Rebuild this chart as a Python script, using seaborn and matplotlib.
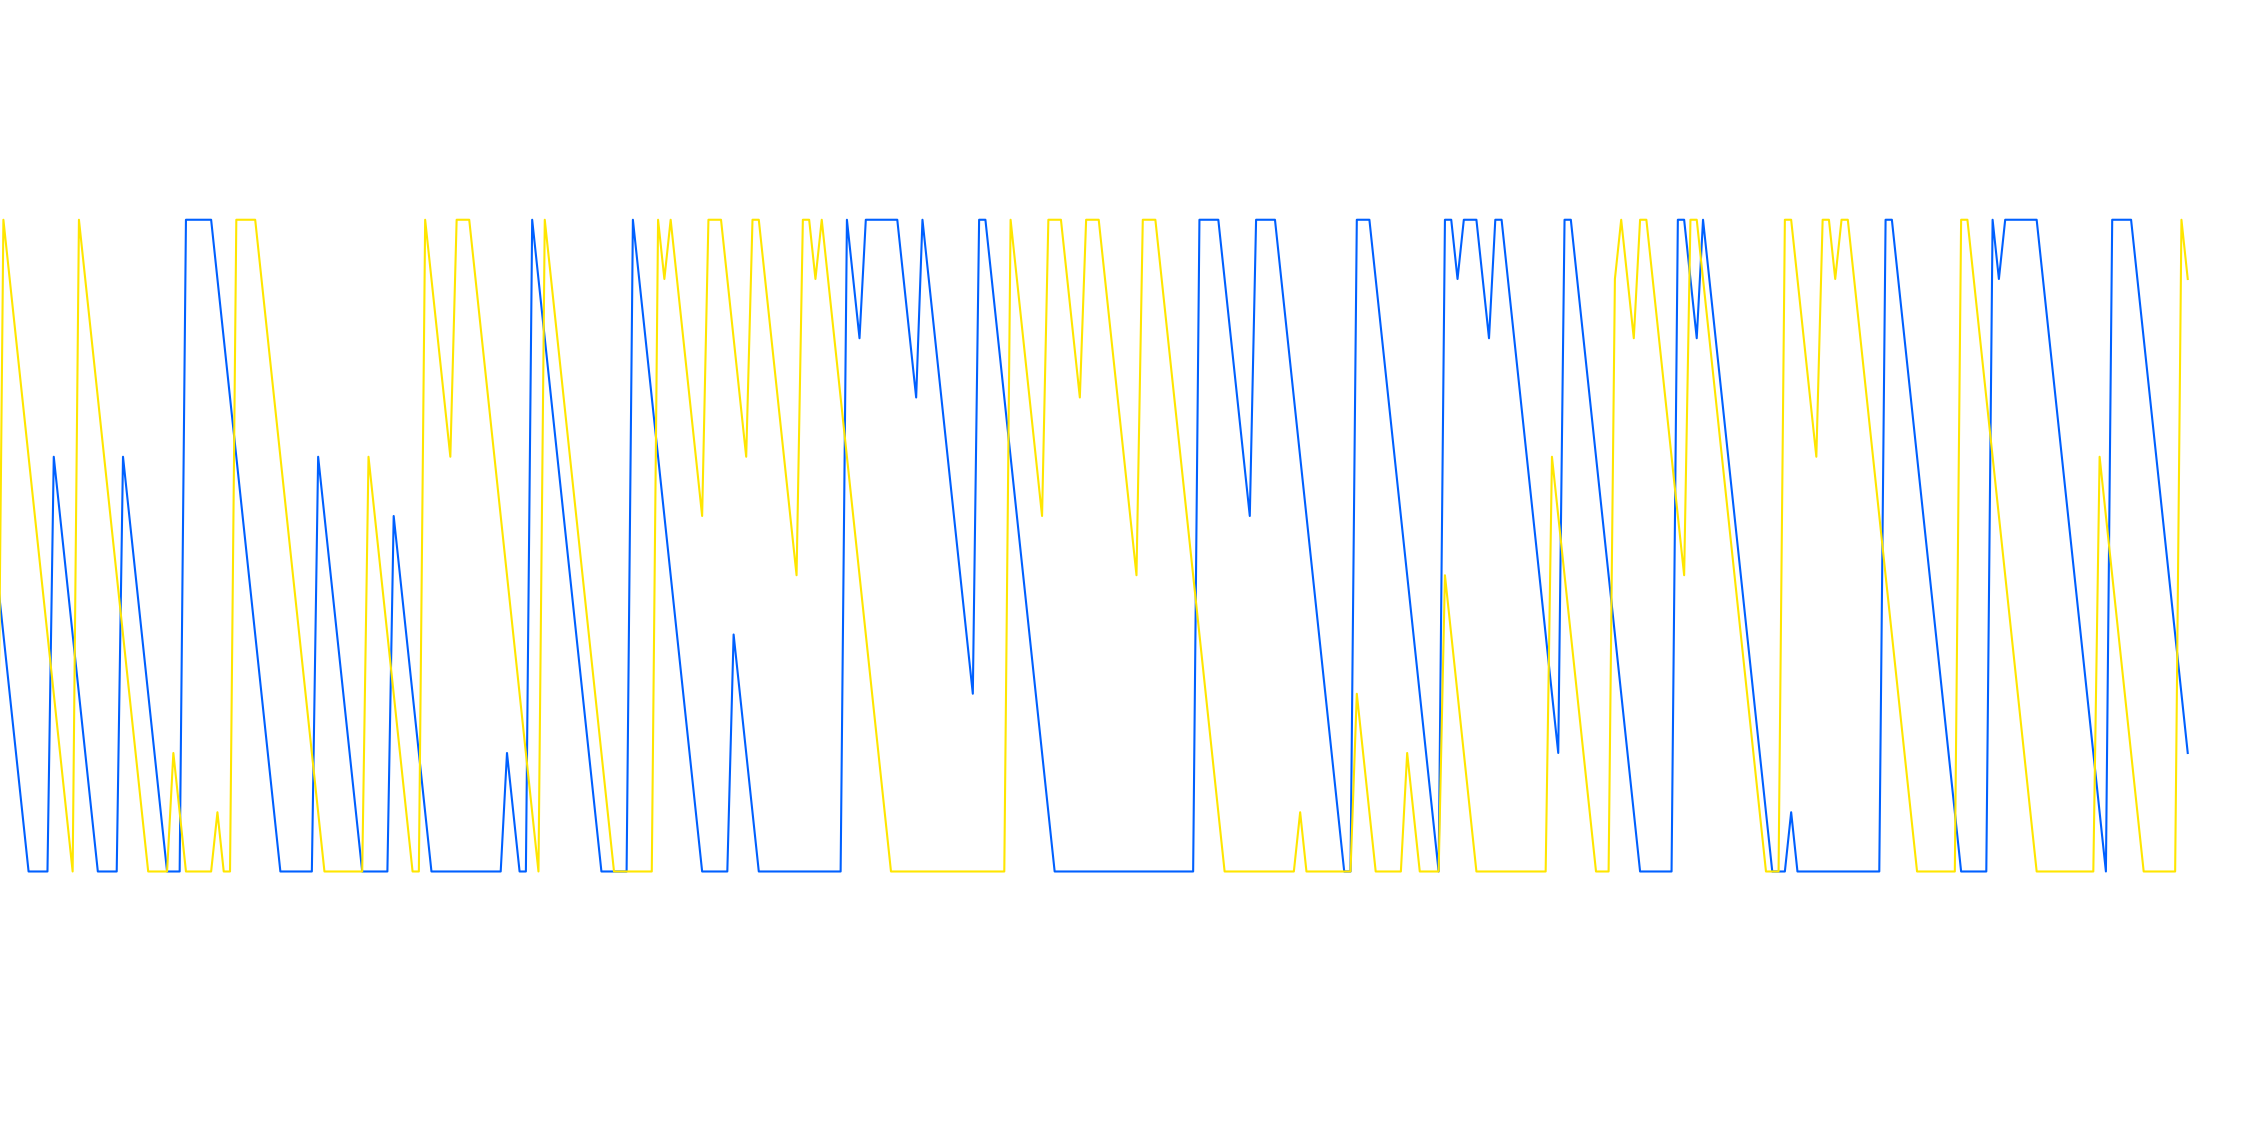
import matplotlib
matplotlib.use("Agg")
import matplotlib.pyplot as plt
import pandas as pd
import seaborn as sns

# step values, index -1 .. 347 (first point sits just off the left edge)
blue_vals = [
    5,
    4, 3, 2, 1, 0, 0, 0, 0, 7, 6, 5, 4, 3, 2, 1, 0, 0, 0, 0,
    7, 6, 5, 4, 3, 2, 1, 0, 0, 0, 11, 11, 11, 11, 11,
    10, 9, 8, 7, 6, 5, 4, 3, 2, 1, 0, 0, 0, 0, 0, 0,
    7, 6, 5, 4, 3, 2, 1, 0, 0, 0, 0, 0,
    6, 5, 4, 3, 2, 1, 0, 0, 0, 0, 0, 0, 0, 0, 0, 0, 0, 0,
    2, 1, 0, 0,
    11, 10, 9, 8, 7, 6, 5, 4, 3, 2, 1, 0, 0, 0, 0, 0,
    11, 10, 9, 8, 7, 6, 5, 4, 3, 2, 1, 0, 0, 0, 0, 0,
    4, 3, 2, 1, 0, 0, 0, 0, 0, 0, 0, 0, 0, 0, 0, 0, 0, 0,
    11, 10, 9, 11, 11, 11, 11, 11, 11, 10, 9, 8,
    11, 10, 9, 8, 7, 6, 5, 4, 3, 11, 11,
    10, 9, 8, 7, 6, 5, 4, 3, 2, 1,
    0, 0, 0, 0, 0, 0, 0, 0, 0, 0, 0, 0, 0, 0, 0, 0, 0, 0, 0, 0, 0, 0, 0,
    11, 11, 11, 11, 10, 9, 8, 7, 6, 11, 11, 11, 11,
    10, 9, 8, 7, 6, 5, 4, 3, 2, 1, 0, 0,
    11, 11, 11, 10, 9, 8, 7, 6, 5, 4, 3, 2, 1, 0,
    11, 11, 10, 11, 11, 11, 10, 9, 11, 11,
    10, 9, 8, 7, 6, 5, 4, 3, 2, 11, 11,
    10, 9, 8, 7, 6, 5, 4, 3, 2, 1, 0, 0, 0, 0, 0, 0,
    11, 11, 10, 9, 11, 10, 9, 8, 7, 6, 5, 4, 3, 2, 1,
    0, 0, 0, 1, 0, 0, 0, 0, 0, 0, 0, 0, 0, 0, 0, 0, 0, 0,
    11, 11, 10, 9, 8, 7, 6, 5, 4, 3, 2, 1, 0, 0, 0, 0, 0,
    11, 10, 11, 11, 11, 11, 11, 11,
    10, 9, 8, 7, 6, 5, 4, 3, 2, 1, 0,
    11, 11, 11, 11, 10, 9, 8, 7, 6, 5, 4, 3, 2,
]
yellow_vals = [
    0,
    11, 10, 9, 8, 7, 6, 5, 4, 3, 2, 1, 0,
    11, 10, 9, 8, 7, 6, 5, 4, 3, 2, 1, 0, 0, 0, 0,
    2, 1, 0, 0, 0, 0, 0, 1, 0, 0,
    11, 11, 11, 11, 10, 9, 8, 7, 6, 5, 4, 3, 2, 1,
    0, 0, 0, 0, 0, 0, 0, 7, 6, 5, 4, 3, 2, 1, 0, 0,
    11, 10, 9, 8, 7, 11, 11, 11, 10, 9, 8, 7, 6, 5, 4, 3, 2, 1, 0,
    11, 10, 9, 8, 7, 6, 5, 4, 3, 2, 1, 0, 0, 0, 0, 0, 0, 0,
    11, 10, 11, 10, 9, 8, 7, 6, 11, 11, 11, 10, 9, 8, 7,
    11, 11, 10, 9, 8, 7, 6, 5, 11, 11, 10,
    11, 10, 9, 8, 7, 6, 5, 4, 3, 2, 1,
    0, 0, 0, 0, 0, 0, 0, 0, 0, 0, 0, 0, 0, 0, 0, 0, 0, 0, 0,
    11, 10, 9, 8, 7, 6, 11, 11, 11, 10, 9, 8, 11, 11, 11,
    10, 9, 8, 7, 6, 5, 11, 11, 11, 10, 9, 8, 7, 6, 5, 4, 3, 2, 1,
    0, 0, 0, 0, 0, 0, 0, 0, 0, 0, 0, 0, 1, 0, 0, 0, 0, 0, 0, 0, 0,
    3, 2, 1, 0, 0, 0, 0, 0, 2, 1, 0, 0, 0, 0,
    5, 4, 3, 2, 1, 0, 0, 0, 0, 0, 0, 0, 0, 0, 0, 0, 0,
    7, 6, 5, 4, 3, 2, 1, 0, 0, 0,
    10, 11, 10, 9, 11, 11, 10, 9, 8, 7, 6, 5, 11, 11,
    10, 9, 8, 7, 6, 5, 4, 3, 2, 1, 0, 0, 0,
    11, 11, 10, 9, 8, 7, 11, 11, 10, 11, 11,
    10, 9, 8, 7, 6, 5, 4, 3, 2, 1, 0, 0, 0, 0, 0, 0, 0,
    11, 11, 10, 9, 8, 7, 6, 5, 4, 3, 2, 1,
    0, 0, 0, 0, 0, 0, 0, 0, 0, 0,
    7, 6, 5, 4, 3, 2, 1, 0, 0, 0, 0, 0, 0,
    11, 10,
]
assert len(blue_vals) == 349 and len(yellow_vals) == 349
steps = list(range(-1, len(blue_vals) - 1))

df = pd.DataFrame({"step": steps, "blue": blue_vals, "yellow": yellow_vals})

fig = plt.figure(figsize=(22.68, 11.48), dpi=100)
ax = fig.add_axes([0, 0, 1, 1])
sns.lineplot(data=df, x="step", y="blue", ax=ax, color="#0060ff",
             linewidth=1.5, sort=False)
sns.lineplot(data=df, x="step", y="yellow", ax=ax, color="#ffe600",
             linewidth=1.5, sort=False)
ax.set_xlim(-0.54, 359.75)
ax.set_ylim(-4.667, 14.709)
ax.axis("off")
fig.savefig("out.png", dpi=100, facecolor="white")
